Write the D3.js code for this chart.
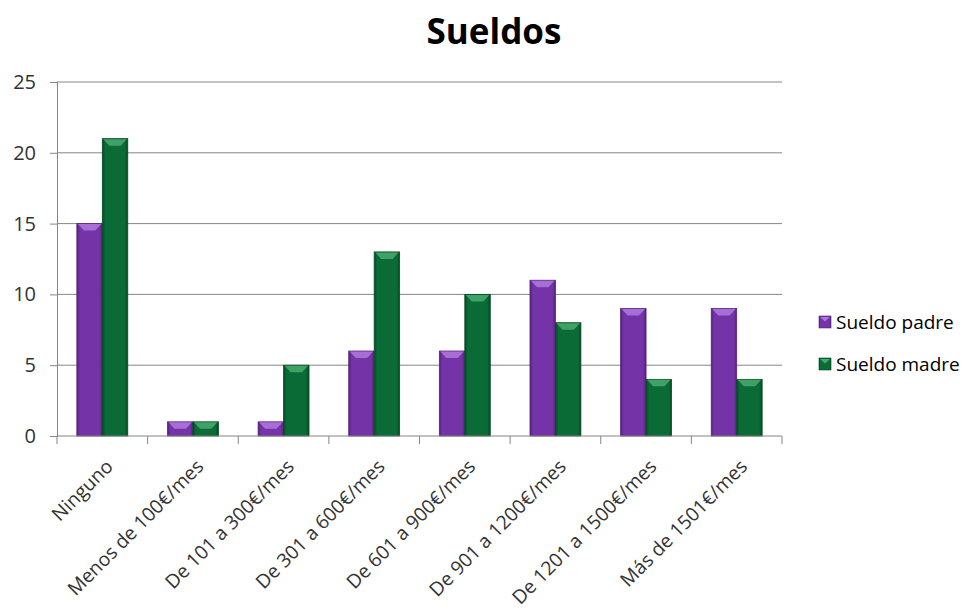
<!DOCTYPE html>
<html>
<head>
<meta charset="utf-8">
<script src="https://cdn.jsdelivr.net/npm/d3@7"></script>
<style>
  body { margin: 0; background: #fff; }
  text { font-family: "Open Sans", "Noto Sans", sans-serif; }
</style>
</head>
<body>
<script>
// chart data
const categories = ["Ninguno", "Menos de 100€/mes", "De 101 a 300€/mes", "De 301 a 600€/mes",
  "De 601 a 900€/mes", "De 901 a 1200€/mes", "De 1201 a 1500€/mes", "Más de 1501€/mes"];
const seriesNames = ["Sueldo padre", "Sueldo madre"];
const padre = [15, 1, 1, 6, 6, 11, 9, 9];
const madre = [21, 1, 5, 13, 10, 8, 4, 4];
const yTicks = [0, 5, 10, 15, 20, 25];

const W = 973, H = 615;
const margin = {top: 82, left: 57, right: 191, bottom: 179};
const width = W - margin.left - margin.right;
const height = H - margin.top - margin.bottom;

const seriesData = [padre, madre];
const colors = [
  {base: "#7433a6", dark: "#55237d", light: "#ad74dc"},
  {base: "#0b6b36", dark: "#054a24", light: "#46a76c"}
];

const svg = d3.select("body").append("svg")
  .attr("width", W).attr("height", H);

const defs = svg.append("defs");
colors.forEach((c, i) => {
  const g = defs.append("linearGradient").attr("id", "grad" + i)
    .attr("x1", "0").attr("x2", "1").attr("y1", "0").attr("y2", "0");
  g.append("stop").attr("offset", "0").attr("stop-color", c.dark);
  g.append("stop").attr("offset", "0.12").attr("stop-color", c.base);
  g.append("stop").attr("offset", "0.88").attr("stop-color", c.base);
  g.append("stop").attr("offset", "1").attr("stop-color", c.dark);
});

// title
svg.append("text")
  .attr("x", 494).attr("y", 44)
  .attr("text-anchor", "middle")
  .attr("font-size", 35).attr("font-weight", "bold")
  .attr("fill", "#000")
  .text("Sueldos");

const chart = svg.append("g")
  .attr("transform", `translate(${margin.left},${margin.top})`);

const x0 = d3.scaleBand().domain(categories).range([0, width]).padding(0);
const x1 = d3.scaleBand().domain(seriesNames).range([0, x0.bandwidth()])
  .paddingInner(0).paddingOuter(0.78);
const y = d3.scaleLinear().domain([0, 25]).range([height, 0]);

// gridlines
chart.append("g")
  .selectAll("line")
  .data(yTicks.filter(t => t > 0))
  .join("line")
    .attr("x1", 0).attr("x2", width)
    .attr("y1", d => y(d)).attr("y2", d => y(d))
    .attr("stroke", "#868686").attr("stroke-width", 1);

// y axis
const yAxis = chart.append("g")
  .call(d3.axisLeft(y).tickValues(yTicks).tickSize(7).tickPadding(14));
yAxis.select(".domain").attr("stroke", "#868686");
yAxis.selectAll(".tick line").attr("stroke", "#868686");
yAxis.selectAll(".tick text")
  .attr("font-size", 20).attr("fill", "#333")
  .attr("font-family", "'Open Sans', sans-serif");

// bars
const groups = chart.append("g")
  .selectAll("g")
  .data(categories)
  .join("g")
    .attr("transform", d => `translate(${x0(d)},0)`);

groups.each(function(cat, ci) {
  const g = d3.select(this);
  seriesNames.forEach((s, si) => {
    const v = seriesData[si][ci];
    const bx = x1(s), bw = x1.bandwidth();
    const by = y(v), bh = height - y(v);
    g.append("rect")
      .attr("x", bx).attr("y", by)
      .attr("width", bw).attr("height", bh)
      .attr("fill", `url(#grad${si})`)
      .attr("stroke", colors[si].dark).attr("stroke-width", 0.8);
    // top bevel
    const cap = Math.min(7, bh);
    g.append("path")
      .attr("d", `M${bx + 1},${by + 0.5} L${bx + bw - 1},${by + 0.5} L${bx + bw - 7},${by + cap} L${bx + 7},${by + cap} Z`)
      .attr("fill", colors[si].light).attr("opacity", 0.9);
  });
});

// x axis
const xAxis = chart.append("g")
  .attr("transform", `translate(0,${height})`);
xAxis.append("line")
  .attr("x1", 0).attr("x2", width)
  .attr("stroke", "#868686");
xAxis.selectAll("line.tick")
  .data(d3.range(categories.length + 1))
  .join("line")
    .attr("class", "tick")
    .attr("x1", i => i * x0.step()).attr("x2", i => i * x0.step())
    .attr("y1", 0).attr("y2", 8)
    .attr("stroke", "#868686");
xAxis.selectAll("text")
  .data(categories)
  .join("text")
    .attr("transform", d => `translate(${x0(d) + x0.bandwidth() / 2 + 7},${27}) rotate(-45)`)
    .attr("text-anchor", "end")
    .attr("dy", "0.35em")
    .attr("font-size", 19.3).attr("fill", "#333")
    .text(d => d);

// legend
const legend = svg.append("g")
  .attr("transform", "translate(819,316)");
seriesNames.forEach((s, i) => {
  const row = legend.append("g").attr("transform", `translate(0,${i * 42})`);
  row.append("rect")
    .attr("x", 0).attr("y", 0).attr("width", 12).attr("height", 12)
    .attr("fill", `url(#grad${i})`).attr("stroke", colors[i].dark).attr("stroke-width", 0.6);
  row.append("path")
    .attr("d", "M1,1 L11,1 L6,5.5 Z").attr("fill", colors[i].light);
  row.append("text")
    .attr("x", 17).attr("y", 6).attr("dy", "0.35em")
    .attr("font-size", 19).attr("fill", "#000")
    .text(s);
});
</script>
</body>
</html>
